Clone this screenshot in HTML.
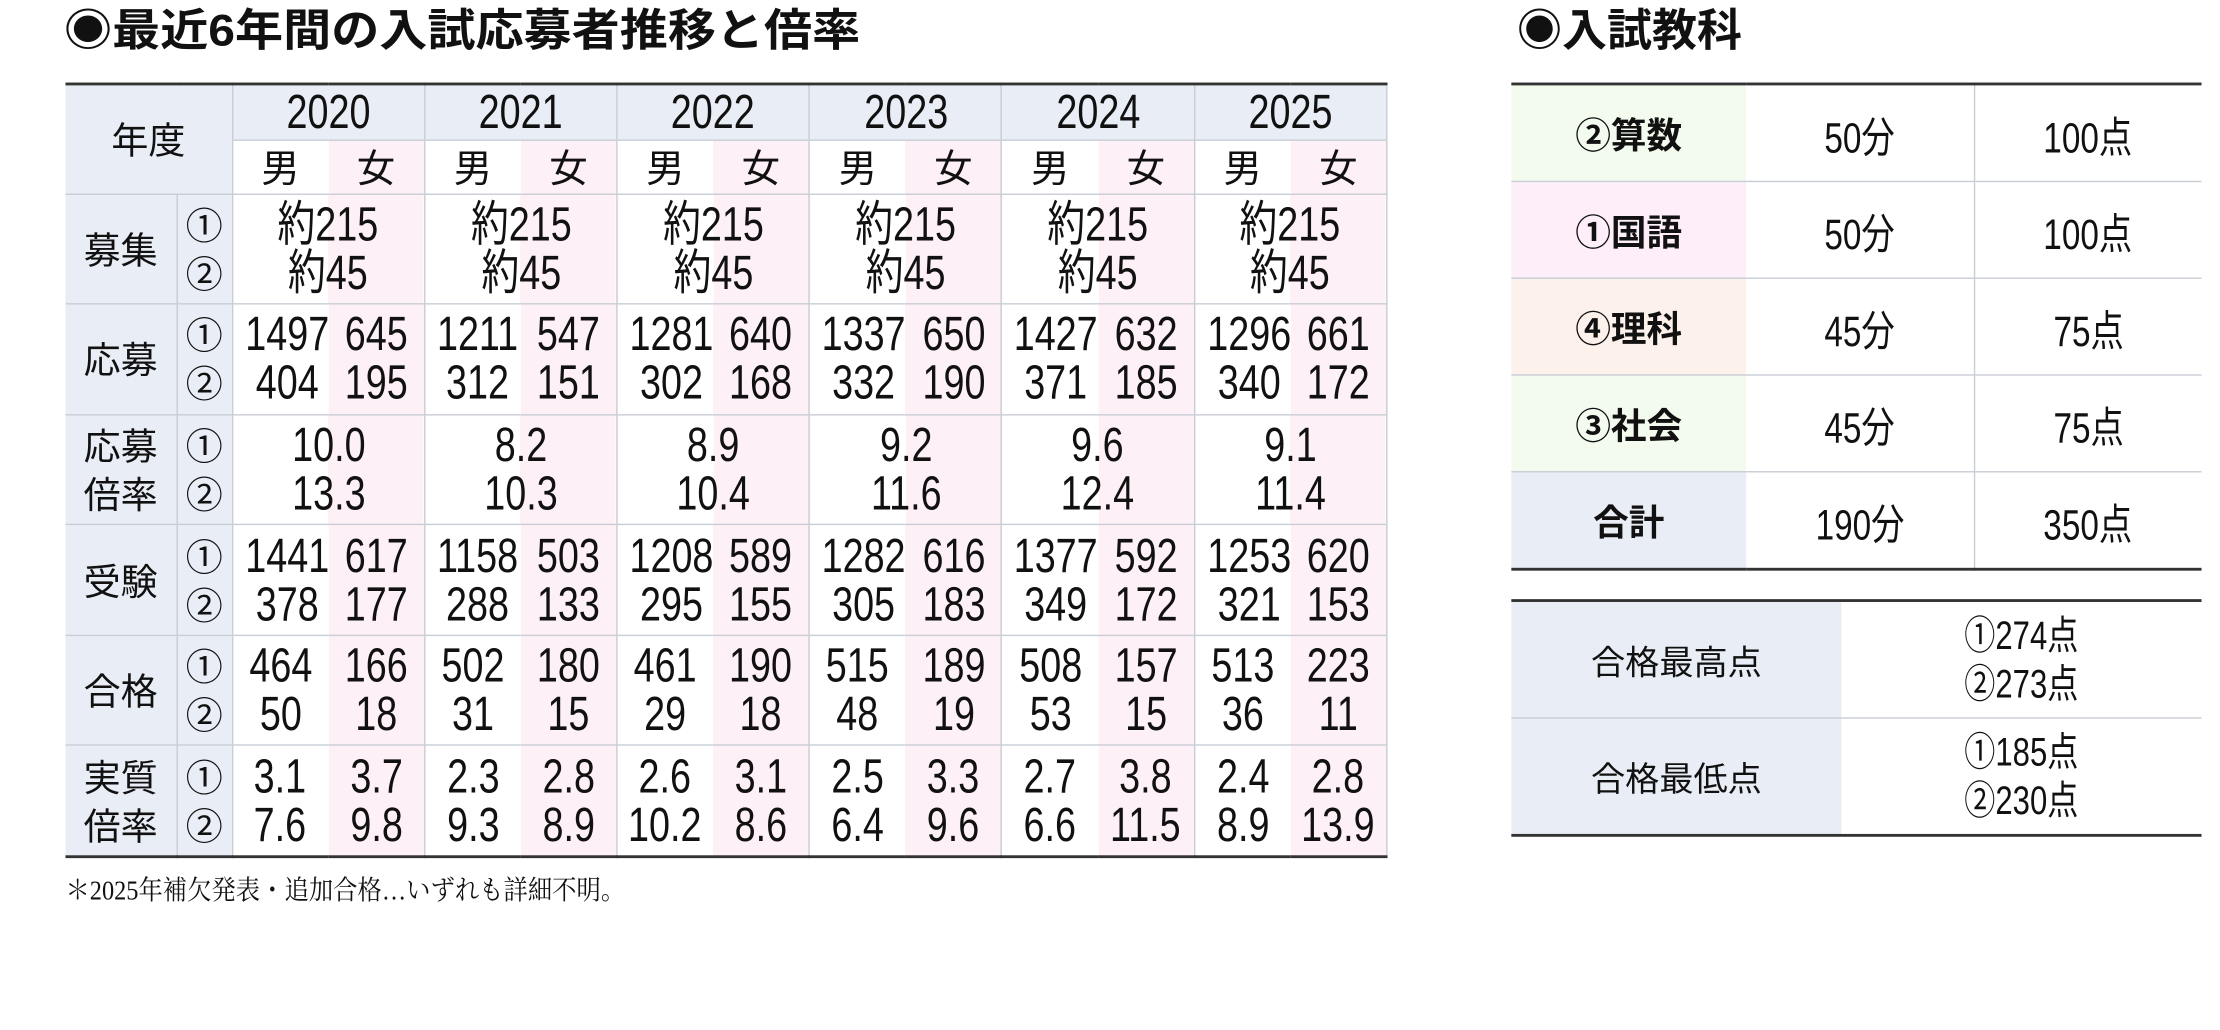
<!DOCTYPE html>
<html><head><meta charset="utf-8"><style>
html,body{margin:0;padding:0;background:#fff;}
body{width:2220px;height:1030px;overflow:hidden;position:relative;}
#w{position:absolute;left:0;top:0;width:1560px;height:724px;transform:scale(1.4231);transform-origin:0 0;font-family:"Liberation Sans","Noto Sans CJK JP",sans-serif;color:#111;}
.t{position:absolute;font-family:"Liberation Sans","Noto Sans CJK JP",sans-serif;font-weight:bold;font-size:31px;line-height:40px;white-space:nowrap;transform-origin:0 0;}
table{border-collapse:collapse;table-layout:fixed;position:absolute;}
td{padding:0;text-align:center;vertical-align:middle;border:1px solid #c9cdd5;overflow:visible;white-space:nowrap;}
.n{display:inline-block;transform:scaleX(0.78);font-family:"Liberation Sans","Noto Sans CJK JP",sans-serif;}
#m{left:46px;top:58px;width:929px;border-top:2px solid #333;border-bottom:2px solid #333;}
#m td{font-size:34px;line-height:34px;}
#m tr:first-child td, #m td.l{border-left:none;}
.h{background:#e9edf5;}
.lab{font-family:"Noto Sans CJK JP",sans-serif;font-size:26px !important;line-height:34px;}
.c{font-family:"Noto Sans CJK JP",sans-serif;font-size:26px !important;}
.p{background:#fdf0f6;}
.s{background:linear-gradient(90deg,#fff 50%,#fdf0f6 50%);}
.mw td{font-family:"Noto Sans CJK JP",sans-serif;font-size:27px !important;}
#r{left:1062px;top:58px;width:485px;border-top:2px solid #333;border-bottom:2px solid #333;}
#r td{height:67px;font-size:30px;border-left:none;border-right:1px solid #c9cdd5;}
#r td:last-child{border-right:none;}
#r .k{font-family:"Noto Sans CJK JP",sans-serif;font-weight:bold;font-size:25px;border-right:none;}
#r2{left:1062px;top:421px;width:485px;border-top:2px solid #333;border-bottom:2px solid #333;}
#r2 td{height:81px;font-size:28px;line-height:34px;border-left:none;border-right:none;}
#r2 .k{font-family:"Noto Sans CJK JP",sans-serif;font-size:24px;}
.fn{position:absolute;left:46px;top:612px;font-family:"Liberation Serif","Noto Serif CJK SC",serif;font-size:19px;line-height:30px;white-space:nowrap;transform:scaleX(0.9);transform-origin:0 0;}
</style></head><body><div id="w">
<div class="t" style="left:45px;top:2px;transform:scaleX(1.09);">◉最近6年間の入試応募者推移と倍率</div>
<div class="t" style="left:1066px;top:2px;transform:scaleX(1.02);">◉入試教科</div>
<table id="m">
<colgroup><col style="width:78px"><col style="width:39px"><col span="12" style="width:67.6px"></colgroup>
<tr style="height:39px"><td class="h lab l" colspan="2" rowspan="2">年度</td><td class="h" colspan="2"><span class="n">2020</span></td><td class="h" colspan="2"><span class="n">2021</span></td><td class="h" colspan="2"><span class="n">2022</span></td><td class="h" colspan="2"><span class="n">2023</span></td><td class="h" colspan="2"><span class="n">2024</span></td><td class="h" colspan="2"><span class="n">2025</span></td></tr>
<tr style="height:38px" class="mw"><td style="border-right:none;border-top:1px solid #c9cdd5">男</td><td class="p" style="border-left:none">女</td><td style="border-right:none">男</td><td class="p" style="border-left:none">女</td><td style="border-right:none">男</td><td class="p" style="border-left:none">女</td><td style="border-right:none">男</td><td class="p" style="border-left:none">女</td><td style="border-right:none">男</td><td class="p" style="border-left:none">女</td><td style="border-right:none">男</td><td class="p" style="border-left:none">女</td></tr>
<tr style="height:77.6px"><td class="h lab l">募集</td><td class="h c">①<br>②</td><td class="s" colspan="2"><span class="n">約215<br>約45</span></td><td class="s" colspan="2"><span class="n">約215<br>約45</span></td><td class="s" colspan="2"><span class="n">約215<br>約45</span></td><td class="s" colspan="2"><span class="n">約215<br>約45</span></td><td class="s" colspan="2"><span class="n">約215<br>約45</span></td><td class="s" colspan="2"><span class="n">約215<br>約45</span></td></tr>
<tr style="height:77.6px"><td class="h lab l">応募</td><td class="h c">①<br>②</td><td style="border-right:none"><span class="n">1497<br>404</span></td><td class="p" style="border-left:none"><span class="n">645<br>195</span></td><td style="border-right:none"><span class="n">1211<br>312</span></td><td class="p" style="border-left:none"><span class="n">547<br>151</span></td><td style="border-right:none"><span class="n">1281<br>302</span></td><td class="p" style="border-left:none"><span class="n">640<br>168</span></td><td style="border-right:none"><span class="n">1337<br>332</span></td><td class="p" style="border-left:none"><span class="n">650<br>190</span></td><td style="border-right:none"><span class="n">1427<br>371</span></td><td class="p" style="border-left:none"><span class="n">632<br>185</span></td><td style="border-right:none"><span class="n">1296<br>340</span></td><td class="p" style="border-left:none"><span class="n">661<br>172</span></td></tr>
<tr style="height:77.6px"><td class="h lab l">応募<br>倍率</td><td class="h c">①<br>②</td><td class="s" colspan="2"><span class="n">10.0<br>13.3</span></td><td class="s" colspan="2"><span class="n">8.2<br>10.3</span></td><td class="s" colspan="2"><span class="n">8.9<br>10.4</span></td><td class="s" colspan="2"><span class="n">9.2<br>11.6</span></td><td class="s" colspan="2"><span class="n">9.6<br>12.4</span></td><td class="s" colspan="2"><span class="n">9.1<br>11.4</span></td></tr>
<tr style="height:77.6px"><td class="h lab l">受験</td><td class="h c">①<br>②</td><td style="border-right:none"><span class="n">1441<br>378</span></td><td class="p" style="border-left:none"><span class="n">617<br>177</span></td><td style="border-right:none"><span class="n">1158<br>288</span></td><td class="p" style="border-left:none"><span class="n">503<br>133</span></td><td style="border-right:none"><span class="n">1208<br>295</span></td><td class="p" style="border-left:none"><span class="n">589<br>155</span></td><td style="border-right:none"><span class="n">1282<br>305</span></td><td class="p" style="border-left:none"><span class="n">616<br>183</span></td><td style="border-right:none"><span class="n">1377<br>349</span></td><td class="p" style="border-left:none"><span class="n">592<br>172</span></td><td style="border-right:none"><span class="n">1253<br>321</span></td><td class="p" style="border-left:none"><span class="n">620<br>153</span></td></tr>
<tr style="height:77.6px"><td class="h lab l">合格</td><td class="h c">①<br>②</td><td style="border-right:none"><span class="n">464<br>50</span></td><td class="p" style="border-left:none"><span class="n">166<br>18</span></td><td style="border-right:none"><span class="n">502<br>31</span></td><td class="p" style="border-left:none"><span class="n">180<br>15</span></td><td style="border-right:none"><span class="n">461<br>29</span></td><td class="p" style="border-left:none"><span class="n">190<br>18</span></td><td style="border-right:none"><span class="n">515<br>48</span></td><td class="p" style="border-left:none"><span class="n">189<br>19</span></td><td style="border-right:none"><span class="n">508<br>53</span></td><td class="p" style="border-left:none"><span class="n">157<br>15</span></td><td style="border-right:none"><span class="n">513<br>36</span></td><td class="p" style="border-left:none"><span class="n">223<br>11</span></td></tr>
<tr style="height:77.6px"><td class="h lab l">実質<br>倍率</td><td class="h c">①<br>②</td><td style="border-right:none"><span class="n">3.1<br>7.6</span></td><td class="p" style="border-left:none"><span class="n">3.7<br>9.8</span></td><td style="border-right:none"><span class="n">2.3<br>9.3</span></td><td class="p" style="border-left:none"><span class="n">2.8<br>8.9</span></td><td style="border-right:none"><span class="n">2.6<br>10.2</span></td><td class="p" style="border-left:none"><span class="n">3.1<br>8.6</span></td><td style="border-right:none"><span class="n">2.5<br>6.4</span></td><td class="p" style="border-left:none"><span class="n">3.3<br>9.6</span></td><td style="border-right:none"><span class="n">2.7<br>6.6</span></td><td class="p" style="border-left:none"><span class="n">3.8<br>11.5</span></td><td style="border-right:none"><span class="n">2.4<br>8.9</span></td><td class="p" style="border-left:none"><span class="n">2.8<br>13.9</span></td></tr>
</table>
<div class="fn">＊2025年補欠発表・追加合格…いずれも詳細不明。</div>
<table id="r">
<colgroup><col style="width:165px"><col style="width:160px"><col style="width:160px"></colgroup>
<tr><td class="k" style="background:#f3fbef">②算数</td><td><span class="n">50分</span></td><td><span class="n">100点</span></td></tr>
<tr><td class="k" style="background:#fdeefa">①国語</td><td><span class="n">50分</span></td><td><span class="n">100点</span></td></tr>
<tr><td class="k" style="background:#fdf1ec">④理科</td><td><span class="n">45分</span></td><td><span class="n">75点</span></td></tr>
<tr><td class="k" style="background:#f3fbef">③社会</td><td><span class="n">45分</span></td><td><span class="n">75点</span></td></tr>
<tr><td class="k" style="background:#e9edf5">合計</td><td><span class="n">190分</span></td><td><span class="n">350点</span></td></tr>
</table>
<table id="r2">
<colgroup><col style="width:232px"><col style="width:253px"></colgroup>
<tr><td class="k h">合格最高点</td><td><span class="n">①274点<br>②273点</span></td></tr>
<tr><td class="k h">合格最低点</td><td><span class="n">①185点<br>②230点</span></td></tr>
</table>
</div></body></html>
